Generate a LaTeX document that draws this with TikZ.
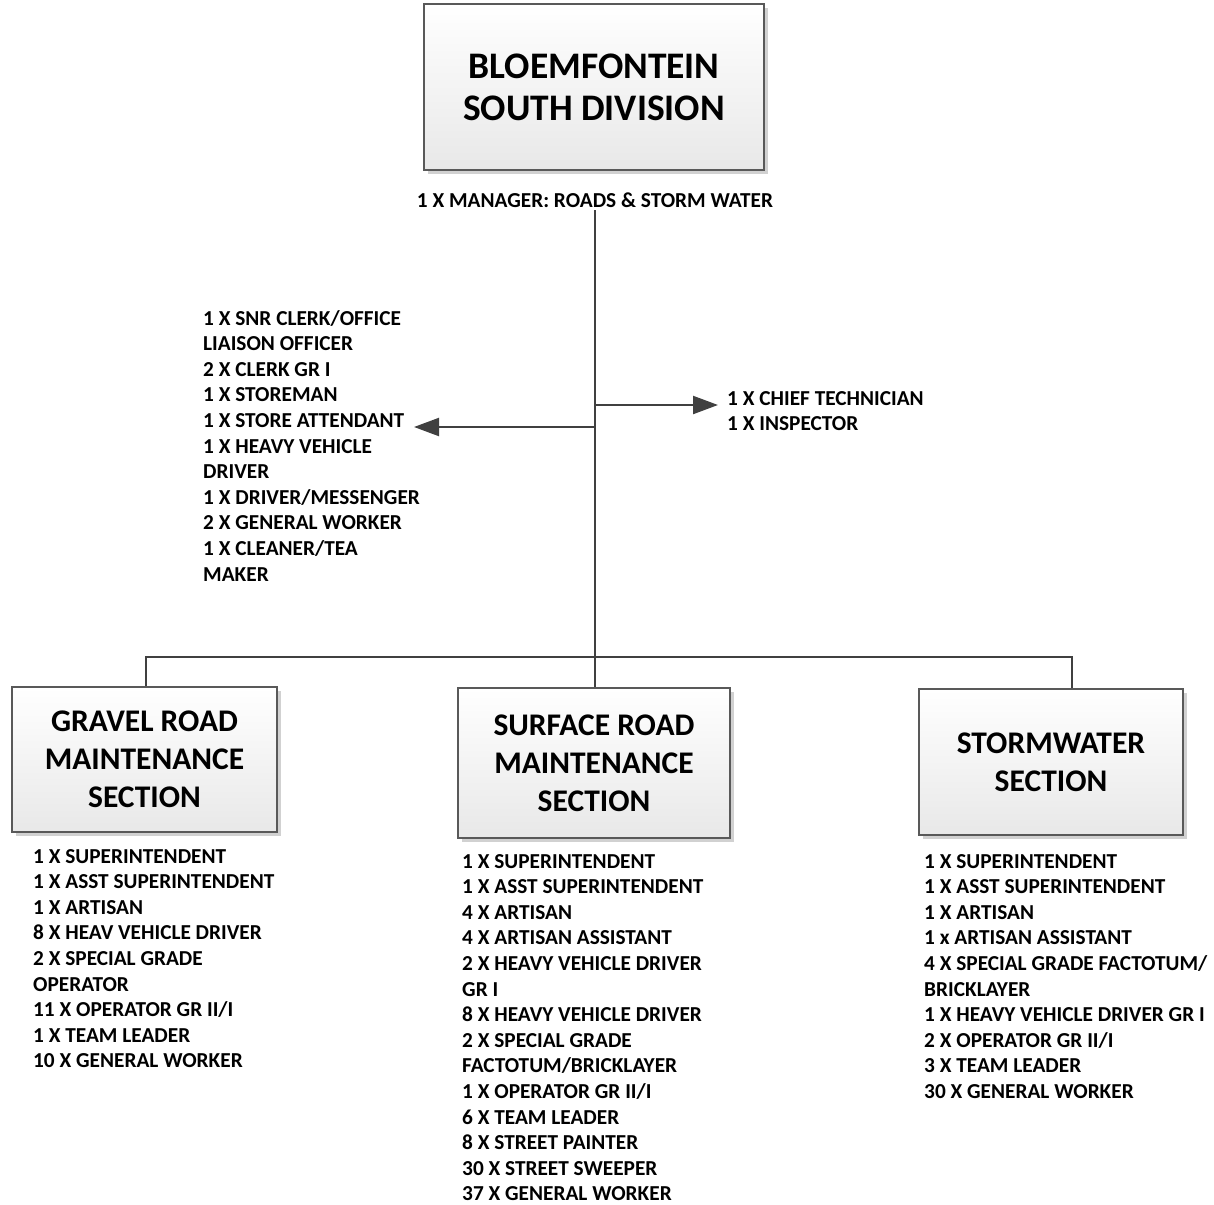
\documentclass[tikz,border=0pt]{standalone}
\usepackage{fontspec}
\setmainfont{Carlito}
\usetikzlibrary{arrows.meta,shadows}
\definecolor{edge}{HTML}{404040}
\definecolor{boxline}{HTML}{595959}
\begin{document}
\begin{tikzpicture}[x=1pt,y=-1pt,
  box/.style={draw=boxline, line width=1.1pt, top color=white, bottom color=black!9,
    drop shadow={shadow xshift=4pt, shadow yshift=-4pt, fill=black!18, opacity=1},
    align=center, inner sep=0pt, font=\fontsize{37.5}{42}\selectfont\bfseries},
  subbox/.style={box, font=\fontsize{31.5}{38}\selectfont\bfseries},
  listtext/.style={align=left, inner sep=0pt, anchor=north west,
    font=\fontsize{21.3}{25.6}\selectfont\bfseries},
  conn/.style={draw=edge, line width=2.2pt},
  arr/.style={conn, -{Triangle[length=25pt,width=18pt]}}]
\useasboundingbox (0,0) rectangle (1214,1204);

% boxes
\node[box, minimum width=340pt, minimum height=166pt] (top) at (594,87) {BLOEMFONTEIN\\SOUTH DIVISION};
\node[subbox, minimum width=265pt, minimum height=145pt] (gravel) at (144.5,759.5) {GRAVEL ROAD\\MAINTENANCE\\SECTION};
\node[subbox, minimum width=272pt, minimum height=150pt] (surface) at (594,763) {SURFACE ROAD\\MAINTENANCE\\SECTION};
\node[subbox, minimum width=264pt, minimum height=146pt] (storm) at (1051,762) {STORMWATER\\SECTION};

% manager label
\node[font=\fontsize{21.3}{25.6}\selectfont\bfseries, inner sep=0pt] (mgr) at (595,200) {1 X MANAGER: ROADS \& STORM WATER};

% side lists
\node[listtext] (office) at (203,310) {1 X SNR CLERK/OFFICE\\LIAISON OFFICER\\2 X CLERK GR I\\1 X STOREMAN\\1 X STORE ATTENDANT\\1 X HEAVY VEHICLE\\DRIVER\\1 X DRIVER/MESSENGER\\2 X GENERAL WORKER\\1 X CLEANER/TEA\\MAKER};
\node[listtext] (chief) at (727,391) {1 X CHIEF TECHNICIAN\\1 X INSPECTOR};

% section lists
\node[listtext] (glist) at (33,849) {1 X SUPERINTENDENT\\1 X ASST SUPERINTENDENT\\1 X ARTISAN\\8 X HEAV VEHICLE DRIVER\\2 X SPECIAL GRADE\\OPERATOR\\11 X OPERATOR GR II/I\\1 X TEAM LEADER\\10 X GENERAL WORKER};
\node[listtext] (slist) at (462,854) {1 X SUPERINTENDENT\\1 X ASST SUPERINTENDENT\\4 X ARTISAN\\4 X ARTISAN ASSISTANT\\2 X HEAVY VEHICLE DRIVER\\GR I\\8 X HEAVY VEHICLE DRIVER\\2 X SPECIAL GRADE\\FACTOTUM/BRICKLAYER\\1 X OPERATOR GR II/I\\6 X TEAM LEADER\\8 X STREET PAINTER\\30 X STREET SWEEPER\\37 X GENERAL WORKER};
\node[listtext] (wlist) at (924,854) {1 X SUPERINTENDENT\\1 X ASST SUPERINTENDENT\\1 X ARTISAN\\1 x ARTISAN ASSISTANT\\4 X SPECIAL GRADE FACTOTUM/\\BRICKLAYER\\1 X HEAVY VEHICLE DRIVER GR I\\2 X OPERATOR GR II/I\\3 X TEAM LEADER\\30 X GENERAL WORKER};

% connectors
\coordinate (trunk) at (595,210);
\coordinate (busL) at (146,657);
\coordinate (busR) at (1072,657);
\coordinate (rfork) at (595,405);
\coordinate (lfork) at (595,427);
\coordinate (rtip) at (718,405);
\coordinate (ltip) at (414,427);
\draw[conn] (trunk) -- (trunk |- surface.north);
\draw[conn] (busL |- gravel.north) -- (busL) -- (busR) -- (busR |- storm.north);
\draw[arr] (rfork) -- (rtip);
\draw[arr] (lfork) -- (ltip);
\end{tikzpicture}
\end{document}
